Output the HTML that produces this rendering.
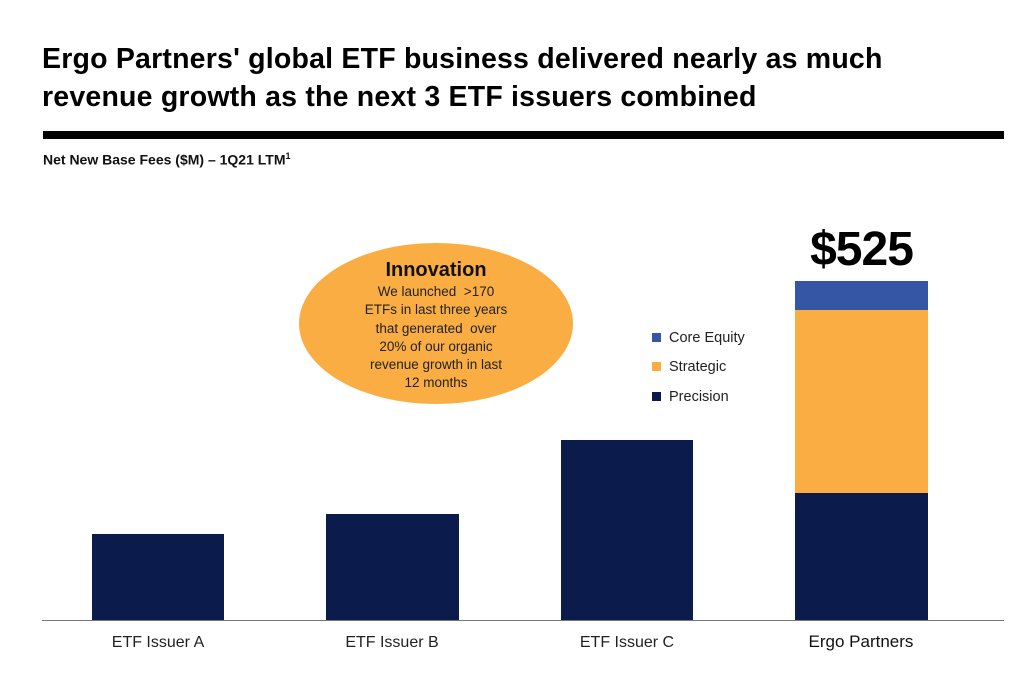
<!DOCTYPE html>
<html><head><meta charset="utf-8"><style>
body{margin:0;background:#fff;width:1024px;height:688px;overflow:hidden;position:relative;font-family:"Liberation Sans",sans-serif}
.t{position:absolute;left:42px;top:40px;font-size:28.5px;font-weight:bold;line-height:38px;letter-spacing:0.2px;color:#000}
.rule{position:absolute;left:43px;top:131px;width:961px;height:8px;background:#000}
.sub{position:absolute;left:43px;top:151px;font-size:14px;font-weight:bold;color:#111}
.bar{position:absolute}
.lbl{position:absolute;top:634px;font-size:16px;color:#222;width:200px;text-align:center}
.leg{position:absolute;left:652px;font-size:14.5px;color:#222}
.leg i{display:inline-block;width:9px;height:9px;margin-right:8px}
</style></head><body>
<div class="t">Ergo Partners' global ETF business delivered nearly as much<br>revenue growth as the next 3 ETF issuers combined</div>
<div class="rule"></div>
<div class="sub">Net New Base Fees ($M) – 1Q21 LTM<sup style="font-size:9px">1</sup></div>
<div style="position:absolute;left:299px;top:243px;width:274px;height:161px;border-radius:50%;background:#f9ad42"></div>
<div style="position:absolute;left:299px;top:257px;width:274px;text-align:center;color:#222">
<div style="font-size:20px;font-weight:bold;color:#111;line-height:26px">Innovation</div>
<div style="font-size:13.5px;line-height:18.3px">We launched &nbsp;&gt;170<br>ETFs in last three years<br>that generated &nbsp;over<br>20% of our organic<br>revenue growth in last<br>12 months</div></div>
<div class="leg" style="top:330px"><i style="background:#3555a5"></i>Core Equity</div>
<div class="leg" style="top:359px"><i style="background:#f9ad42"></i>Strategic</div>
<div class="leg" style="top:389px"><i style="background:#0b1b4b"></i>Precision</div>
<div class="bar" style="left:92px;top:534px;width:132px;height:86px;background:#0b1b4b"></div>
<div class="bar" style="left:326px;top:514px;width:133px;height:106px;background:#0b1b4b"></div>
<div class="bar" style="left:561px;top:440px;width:132px;height:180px;background:#0b1b4b"></div>
<div class="bar" style="left:795px;top:493px;width:133px;height:127px;background:#0b1b4b"></div>
<div class="bar" style="left:795px;top:310px;width:133px;height:183px;background:#f9ad42"></div>
<div class="bar" style="left:795px;top:281px;width:133px;height:29px;background:#3555a5"></div>
<div style="position:absolute;left:795px;top:222px;width:133px;text-align:center;font-size:48px;font-weight:bold;color:#000;letter-spacing:-1px">$525</div>
<div style="position:absolute;left:42px;top:620px;width:962px;height:1px;background:#777"></div>
<div class="lbl" style="left:58px">ETF Issuer A</div>
<div class="lbl" style="left:292px">ETF Issuer B</div>
<div class="lbl" style="left:527px">ETF Issuer C</div>
<div class="lbl" style="left:761px;top:632px;font-size:17px;color:#111">Ergo Partners</div>
</body></html>
